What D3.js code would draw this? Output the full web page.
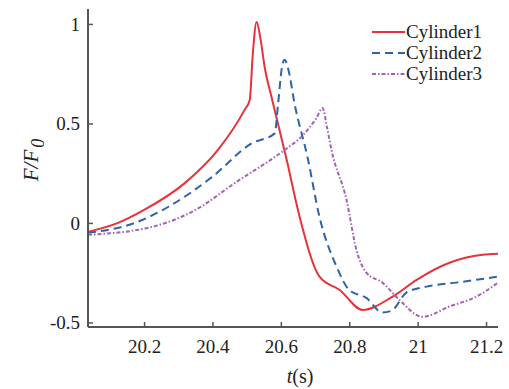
<!DOCTYPE html>
<html lang="en">
<head>
    <meta charset="UTF-8">
    <script src="https://d3js.org/d3.v7.min.js"></script>
    <title>Cylinder forces</title>
    <style>
        body {
            margin: 0;
            background-color: #fff;
        }
        #chart text {
            font-family: "Liberation Serif", serif !important;
        }
    </style>
</head>
<body>
    <svg id="chart" width="509" height="389"></svg>

    <script>
        // values
        const seriesNames = ["Cylinder1", "Cylinder2", "Cylinder3"];

        const cyl1T = [20.036, 20.124, 20.2, 20.319, 20.416, 20.494, 20.509, 20.518, 20.529, 20.540, 20.553, 20.573, 20.617, 20.655, 20.713, 20.772, 20.839, 20.927, 20.997, 21.093, 21.19, 21.235];
        const cyl1V = [-0.045, 0.0, 0.065, 0.2, 0.367, 0.568, 0.618, 0.85, 1.01, 0.93, 0.78, 0.63, 0.317, 0.03, -0.27, -0.337, -0.437, -0.37, -0.286, -0.2, -0.16, -0.155];

        const cyl2T = [20.036, 20.173, 20.27, 20.398, 20.515, 20.582, 20.592, 20.603, 20.611, 20.622, 20.640, 20.678, 20.713, 20.763, 20.8, 20.85, 20.897, 20.925, 20.967, 21.026, 21.113, 21.235];
        const cyl2V = [-0.05, 0.0, 0.08, 0.23, 0.4, 0.45, 0.6, 0.78, 0.82, 0.77, 0.6, 0.33, 0.03, -0.22, -0.337, -0.377, -0.45, -0.44, -0.35, -0.32, -0.3, -0.27];

        const cyl3T = [20.036, 20.223, 20.35, 20.465, 20.611, 20.664, 20.705, 20.722, 20.735, 20.748, 20.792, 20.821, 20.85, 20.897, 20.947, 21.014, 21.093, 21.172, 21.235];
        const cyl3V = [-0.06, -0.02, 0.065, 0.2, 0.367, 0.44, 0.53, 0.578, 0.48, 0.367, 0.116, -0.136, -0.25, -0.3, -0.387, -0.472, -0.42, -0.37, -0.3];

        const xTicks = [20.2, 20.4, 20.6, 20.8, 21, 21.2];
        const yTicks = [-0.5, 0, 0.5, 1];

        const colors = ["#e8323a", "#2f62a6", "#a45fb6"];
        const dashes = [null, "8,5", "4,2,1.5,2"];

        const svg = d3.select("#chart");
        const plotLeft = 88, plotRight = 498, plotTop = 9, plotBottom = 327;

        const x = d3.scaleLinear().domain([20.036, 21.235]).range([plotLeft, plotRight]);
        const y = d3.scaleLinear().domain([-0.523, 1.075]).range([plotBottom, plotTop]);

        const series = [
            cyl1T.map((t, i) => [t, cyl1V[i]]),
            cyl2T.map((t, i) => [t, cyl2V[i]]),
            cyl3T.map((t, i) => [t, cyl3V[i]])
        ];

        const line = d3.line()
            .x(d => x(d[0]))
            .y(d => y(d[1]))
            .curve(d3.curveMonotoneX);

        // draw the 3 series
        series.forEach((s, i) => {
            svg.append("path")
                .datum(s)
                .attr("d", line)
                .attr("fill", "none")
                .attr("stroke", colors[i])
                .attr("stroke-width", 2)
                .attr("stroke-dasharray", dashes[i]);
        });

        // plain hyphen minus, like the original figure
        const fmt = d => String(d);

        // axes, ticks pointing inward
        const xAxis = svg.append("g")
            .attr("transform", `translate(0,${plotBottom})`)
            .call(d3.axisBottom(x).tickValues(xTicks).tickSize(-5).tickPadding(13).tickFormat(fmt));
        const yAxis = svg.append("g")
            .attr("transform", `translate(${plotLeft},0)`)
            .call(d3.axisLeft(y).tickValues(yTicks).tickSize(-5).tickPadding(8).tickFormat(fmt));

        [xAxis, yAxis].forEach(g => {
            g.attr("font-family", null);
            g.select(".domain")
                .attr("stroke", "#555")
                .attr("stroke-width", 2)
                .attr("d", g === xAxis ? `M${plotLeft},0H${plotRight}` : `M0,${plotTop}V${plotBottom}`);
            g.selectAll(".tick line").attr("stroke", "#555").attr("stroke-width", 1.5);
            g.selectAll(".tick text")
                .attr("font-size", 19)
                .attr("fill", "#222");
        });

        // axis labels
        svg.append("text")
            .attr("x", 300).attr("y", 383)
            .attr("text-anchor", "middle")
            .attr("font-size", 20)
            .attr("fill", "#222")
            .html('<tspan font-style="italic">t</tspan>(s)');

        svg.append("text")
            .attr("transform", "translate(38,160) rotate(-90)")
            .attr("text-anchor", "middle")
            .attr("font-size", 21)
            .attr("font-style", "italic")
            .attr("fill", "#222")
            .html('F/F<tspan dy="6" dx="2" font-size="18">0</tspan>');

        // legend
        const legend = svg.append("g");
        seriesNames.forEach((name, i) => {
            const ly = 32 + i * 21;
            legend.append("line")
                .attr("x1", 372).attr("x2", 405)
                .attr("y1", ly).attr("y2", ly)
                .attr("stroke", colors[i])
                .attr("stroke-width", 2)
                .attr("stroke-dasharray", dashes[i]);
            legend.append("text")
                .attr("x", 406).attr("y", ly + 6)
                .attr("font-size", 19)
                .attr("fill", "#222")
                .text(name);
        });
    </script>
</body>
</html>
